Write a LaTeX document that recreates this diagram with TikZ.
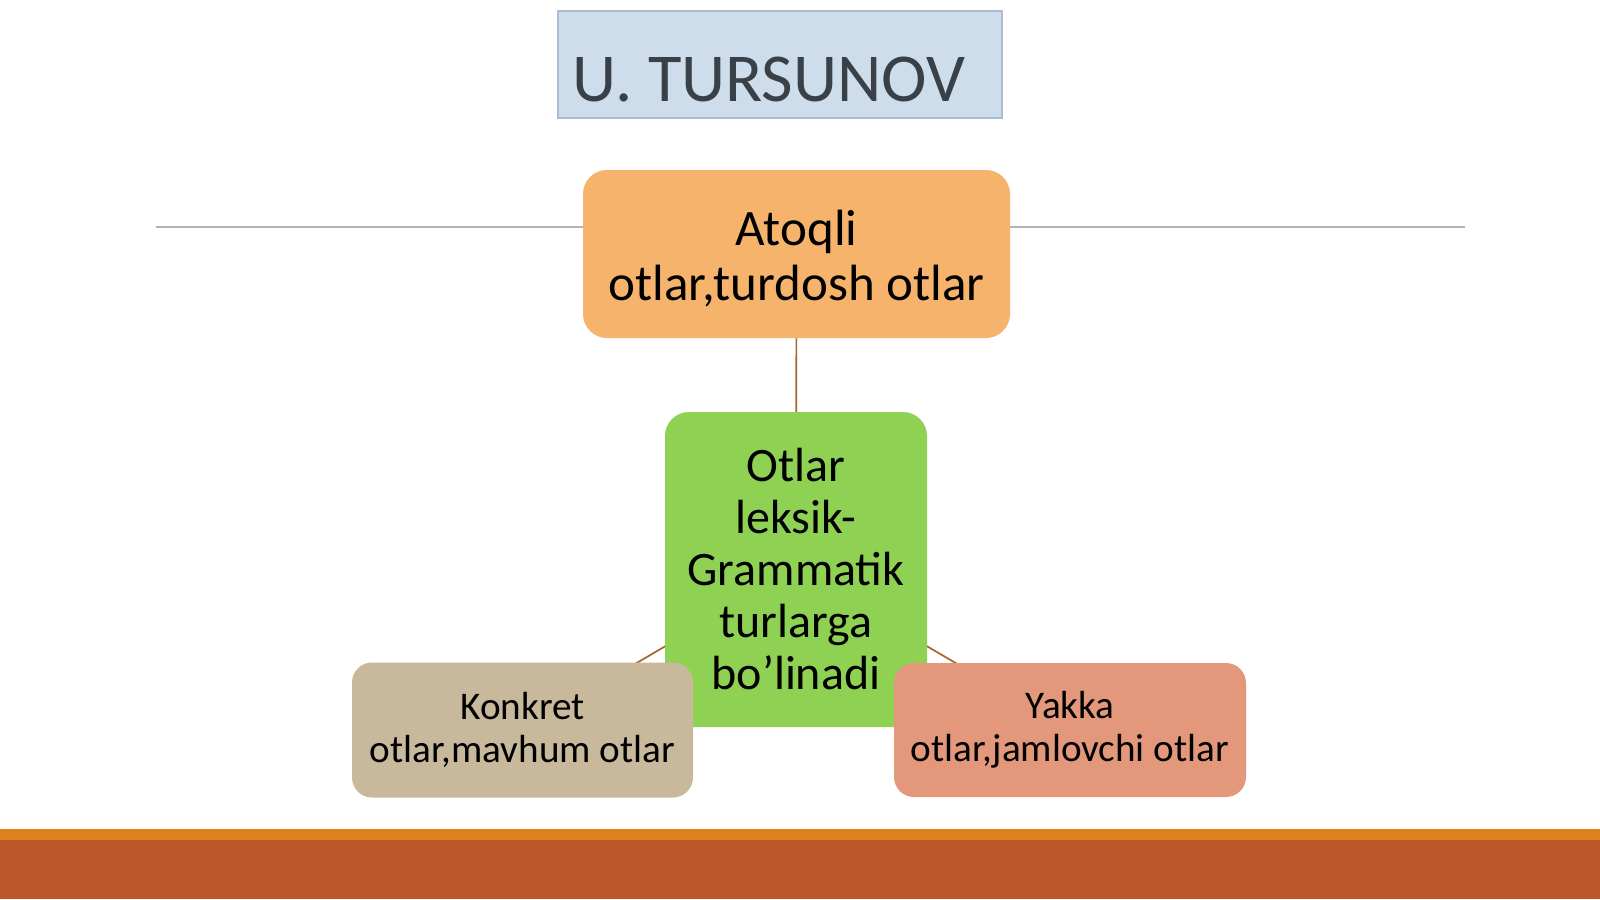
\documentclass[tikz,border=0pt]{standalone}
\usepackage{fontspec}
\setmainfont{Carlito}
\usetikzlibrary{backgrounds}
\definecolor{orangebox}{HTML}{F5B36B}
\definecolor{greenbox}{HTML}{8ED153}
\definecolor{tanbox}{HTML}{C9B99C}
\definecolor{salmonbox}{HTML}{E3977B}
\definecolor{titlefill}{HTML}{CDDDEC}
\definecolor{titleedge}{HTML}{A9BCD1}
\definecolor{titleink}{HTML}{3A4048}
\definecolor{stripe}{HTML}{E0801F}
\definecolor{bar}{HTML}{BC582B}
\definecolor{linkcol}{HTML}{A8652A}
\definecolor{rulecol}{HTML}{B4B4B4}
\begin{document}
\begin{tikzpicture}[x=0.5pt,y=-0.5pt,
  card/.style={rounded corners=12pt, align=center, inner sep=0pt, text=black},
  bigtext/.style={font=\fontsize{25.5}{27.5}\selectfont},
  midtext/.style={font=\fontsize{24}{26}\selectfont},
  smalltext/.style={font=\fontsize{19.6}{21.6}\selectfont},
  link/.style={draw=linkcol, line width=0.85pt}]
\useasboundingbox (0,0) rectangle (1600,899);
% bottom band
\fill[stripe] (0,829) rectangle (1600,840);
\fill[bar] (0,840) rectangle (1600,899);
% horizontal rule
\draw[rulecol, line width=0.75pt] (156,227) -- (1465,227);
% title
\draw[fill=titlefill, draw=titleedge, line width=0.6pt] (558,11) rectangle (1002,118);
\node[anchor=base west, inner sep=0pt, text=titleink, font=\fontsize{34.3}{36}\selectfont] (title) at (572,102) {U. TURSUNOV};
% boxes
\node[card, fill=orangebox, bigtext, minimum width=213.5pt, minimum height=84pt] (atoqli) at (796.5,254) {\rule{0pt}{22.3pt}Atoqli\\otlar,turdosh otlar};
\node[card, fill=greenbox, midtext, minimum width=131pt, minimum height=157.5pt] (otlar) at (796,569.5) {Otlar\\leksik-\\Grammatik\\turlarga\\bo’linadi};
\node[card, rounded corners=10pt, fill=tanbox, smalltext, minimum width=170.5pt, minimum height=67.5pt] (konkret) at (522.5,730) {Konkret\\otlar,mavhum otlar};
\node[card, rounded corners=10pt, fill=salmonbox, smalltext, minimum width=176pt, minimum height=67pt] (yakka) at (1070,730) {Yakka\\otlar,jamlovchi otlar};
% connectors
\begin{scope}[on background layer]
\fill[white] (0,0) rectangle (1600,899);
\draw[link] (atoqli.center) -- (otlar.center);
\draw[link] (otlar.center) -- (konkret.center);
\draw[link] (otlar.center) -- (yakka.center);
\end{scope}
\end{tikzpicture}
\end{document}
